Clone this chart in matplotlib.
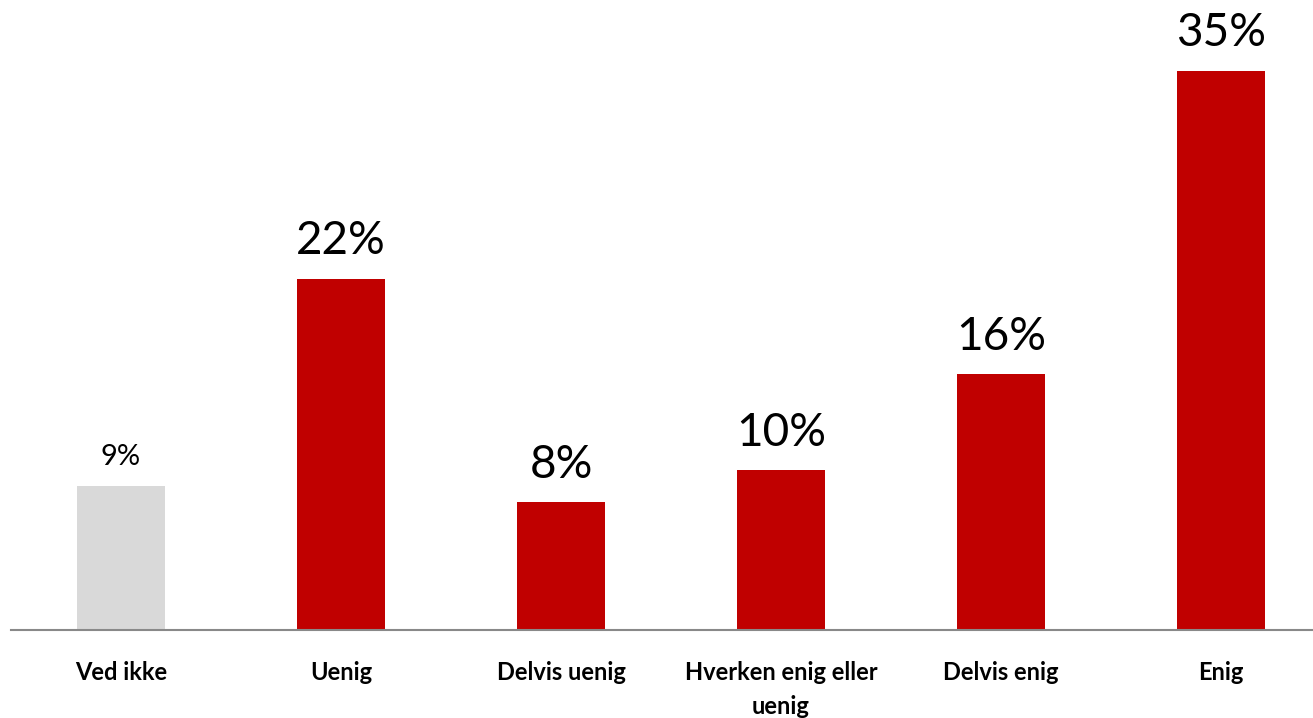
import matplotlib
matplotlib.use("Agg")
import matplotlib.pyplot as plt

categories = ["Ved ikke", "Uenig", "Delvis uenig", "Hverken enig eller\nuenig", "Delvis enig", "Enig"]
values = [9, 22, 8, 10, 16, 35]
colors = ["#D9D9D9", "#C00000", "#C00000", "#C00000", "#C00000", "#C00000"]
label_sizes = [21, 33, 33, 33, 33, 33]

plt.rcParams["font.family"] = ["Lato", "DejaVu Sans"]

fig = plt.figure(figsize=(13.13, 7.18), dpi=100)
ax = fig.add_axes([11 / 1313, 1 - 630 / 718, 1 - 11 / 1313, 630 / 718])

x = list(range(len(values)))
ax.bar(x, values, width=0.4, color=colors, zorder=2)

for xi, v, fs in zip(x, values, label_sizes):
    ax.annotate(f"{v}%", (xi, v), xytext=(0, 12), textcoords="offset points",
                ha="center", va="bottom", fontsize=fs, color="black")

ax.set_xlim(-0.5, 5.418)
ax.set_ylim(0, 630 / 15.97)

ax.set_xticks(x)
ax.set_xticklabels(categories, fontsize=17, fontweight="bold", linespacing=1.6, va="top")
ax.tick_params(axis="x", length=0, pad=22)
ax.set_yticks([])

for s in ["top", "right", "left"]:
    ax.spines[s].set_visible(False)
ax.spines["bottom"].set_color("#898989")
ax.spines["bottom"].set_linewidth(1.5)

fig.savefig("out.png", dpi=100)
